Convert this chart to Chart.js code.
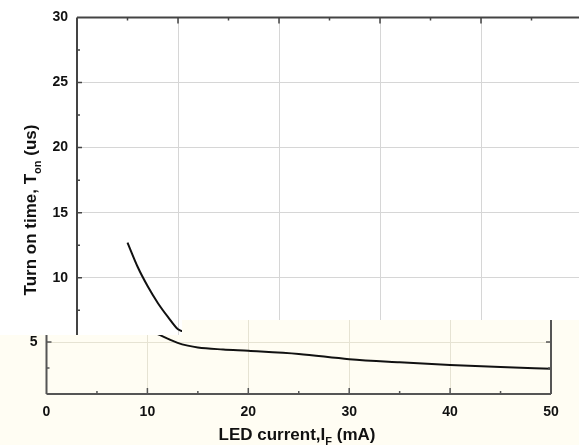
<!DOCTYPE html>
<html>
<head>
<meta charset="utf-8">
<script src="https://cdn.jsdelivr.net/npm/chart.js@4/dist/chart.umd.min.js"></script>
<style>
html, body { margin: 0; padding: 0; background: #fff; overflow: hidden; }
#quadro { position: relative; width: 579px; height: 445px; overflow: hidden; }
#caixaTopo { position: absolute; left: 0; top: 0; width: 600px; height: 445px; }
#caixaBaixo {
    position: absolute; left: 0; top: 0; width: 579px; height: 445px; background: #fffdf3;
    clip-path: polygon(0 335px, 182px 335px, 182px 320px, 579px 320px, 579px 445px, 0 445px);
}
</style>
</head>
<body>
<div id="quadro">
    <div id="caixaTopo"><canvas id="graficoTopo" width="600" height="445"></canvas></div>
    <div id="caixaBaixo"><canvas id="graficoBaixo" width="579" height="445"></canvas></div>
</div>
<script>
// Dados
const correnteLED = [5, 6, 7, 8, 9, 10, 11, 12, 13, 14, 15, 17.5, 20, 25, 30, 35, 40, 45, 50];
const tempoLigar = [12.7, 10.85, 9.35, 8.07, 7.0, 6.05, 5.76, 5.33, 4.92, 4.65, 4.47, 4.28, 4.15, 3.85, 3.35, 3.05, 2.8, 2.6, 2.43];
const ticksX = [0, 10, 20, 30, 40, 50];
const ticksY = [0, 5, 10, 15, 20, 25, 30];
const tituloX = ["LED current,I", "F", " (mA)"];
const tituloY = ["Turn on time, T", "on", " (us)"];

const fonte = "'Liberation Sans', Arial, sans-serif";
const pontos = correnteLED.map((c, i) => ({ x: c, y: tempoLigar[i] }));

// escreve texto com subscrito (parte do meio)
function escreverTitulo(ctx, partes, x, y, tam, girar) {
    const fNormal = `bold ${tam}px ${fonte}`;
    const fSub = `bold ${Math.round(tam * 0.62)}px ${fonte}`;
    ctx.save();
    ctx.translate(x, y);
    if (girar) ctx.rotate(-Math.PI / 2);
    ctx.fillStyle = "#111";
    ctx.textBaseline = "alphabetic";
    ctx.textAlign = "left";
    const larguras = partes.map((p, i) => {
        ctx.font = i === 1 ? fSub : fNormal;
        return ctx.measureText(p).width;
    });
    let pos = -larguras.reduce((a, b) => a + b, 0) / 2;
    partes.forEach((p, i) => {
        ctx.font = i === 1 ? fSub : fNormal;
        ctx.fillText(p, pos, i === 1 ? tam * 0.3 : 0);
        pos += larguras[i];
    });
    ctx.restore();
}

// moldura com marcas para dentro + titulos
const moldura = {
    id: "moldura",
    afterDraw(chart, args, op) {
        const { ctx, chartArea: a, scales } = chart;
        ctx.save();
        ctx.strokeStyle = op.cor;
        ctx.lineWidth = 2;
        ctx.beginPath();
        if (op.esquerda) { ctx.moveTo(a.left, a.top); ctx.lineTo(a.left, a.bottom); }
        if (op.topo) { ctx.moveTo(a.left, a.top); ctx.lineTo(a.right, a.top); }
        if (op.baixo) { ctx.moveTo(a.left, a.bottom); ctx.lineTo(a.right, a.bottom); }
        if (op.direita) { ctx.moveTo(a.right, a.top); ctx.lineTo(a.right, a.bottom); }
        ctx.stroke();

        ctx.lineWidth = 1.5;
        ctx.beginPath();
        for (let v = 5; v < 50; v += 5) {
            const px = scales.x.getPixelForValue(v);
            const t = v % 10 === 0 ? 6 : 3;
            if (op.topo) { ctx.moveTo(px, a.top); ctx.lineTo(px, a.top + t); }
            if (op.baixo) { ctx.moveTo(px, a.bottom); ctx.lineTo(px, a.bottom - t); }
        }
        for (let v = 2.5; v < 30; v += 2.5) {
            const py = scales.y.getPixelForValue(v);
            const t = v % 5 === 0 ? 5 : 3;
            if (op.esquerda) { ctx.moveTo(a.left, py); ctx.lineTo(a.left + t, py); }
            if (op.direita) { ctx.moveTo(a.right, py); ctx.lineTo(a.right - t, py); }
        }
        ctx.stroke();
        ctx.restore();

        if (op.tituloY) escreverTitulo(ctx, tituloY, 36, 210, 17, true);
        if (op.tituloX) escreverTitulo(ctx, tituloX, 297, 440, 17, false);
    }
};

function montarGrafico(id, cfg) {
    const ctx = document.getElementById(id).getContext("2d");
    return new Chart(ctx, {
        type: "line",
        data: {
            datasets: [{
                data: pontos,
                borderColor: "#111",
                borderWidth: 2,
                pointRadius: 0,
                cubicInterpolationMode: "monotone",
                fill: false
            }]
        },
        options: {
            responsive: false,
            animation: false,
            events: [],
            layout: { padding: { top: cfg.topo, right: cfg.direita, left: 0, bottom: 0 } },
            plugins: {
                legend: { display: false },
                tooltip: { enabled: false },
                moldura: cfg.moldura
            },
            scales: {
                x: {
                    type: "linear",
                    min: ticksX[0],
                    max: ticksX[ticksX.length - 1],
                    afterBuildTicks: s => { s.ticks = ticksX.map(v => ({ value: v })); },
                    afterFit: s => { s.height = cfg.alturaX; },
                    grid: { color: cfg.grade, drawTicks: false },
                    border: { display: false },
                    ticks: { padding: 10, color: "#111", font: { family: fonte, size: 14, weight: "bold" }, maxRotation: 0 }
                },
                y: {
                    min: ticksY[0],
                    max: ticksY[ticksY.length - 1],
                    afterBuildTicks: s => { s.ticks = ticksY.map(v => ({ value: v })); },
                    afterFit: s => { s.width = cfg.larguraY; },
                    grid: { color: cfg.grade, drawTicks: false },
                    border: { display: false },
                    ticks: {
                        padding: 9, color: "#111", font: { family: fonte, size: 14, weight: "bold" },
                        callback: v => (v === 0 ? "" : v)
                    }
                }
            }
        },
        plugins: [moldura]
    });
}

// parte de cima (fundo branco)
montarGrafico("graficoTopo", {
    topo: 15, direita: 18, alturaX: 37, larguraY: 77, grade: "#d6d6d6",
    moldura: { cor: "#444", esquerda: true, topo: true, tituloY: true }
});

// parte de baixo (fundo creme, deslocada)
montarGrafico("graficoBaixo", {
    topo: 82, direita: 28, alturaX: 51, larguraY: 46.5, grade: "#e6e3d3",
    moldura: { cor: "#555", esquerda: true, baixo: true, direita: true, tituloX: true }
});
</script>
</body>
</html>
